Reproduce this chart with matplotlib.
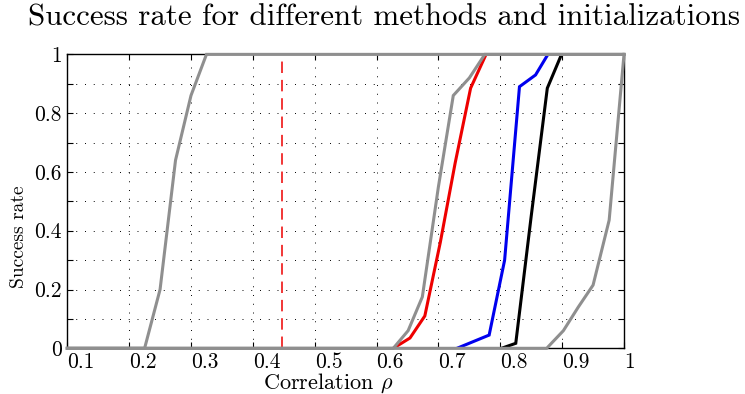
import matplotlib
matplotlib.use("Agg")
import matplotlib.pyplot as plt

plt.rcParams['font.family'] = ['cmr10', 'DejaVu Serif']
plt.rcParams['mathtext.fontset'] = 'cm'
plt.rcParams['axes.unicode_minus'] = False

# ---- data ----
gray1_x = [0.1, 0.225, 0.25, 0.275, 0.3, 0.325, 1.0]
gray1_y = [0.0, 0.0, 0.20, 0.64, 0.86, 1.0, 1.0]

gray2_x = [0.1, 0.627, 0.651, 0.674, 0.7, 0.724, 0.75, 0.775, 1.0]
gray2_y = [0.0, 0.0, 0.06, 0.175, 0.55, 0.86, 0.92, 1.0, 1.0]

red_x = [0.627, 0.654, 0.678, 0.703, 0.727, 0.752, 0.777]
red_y = [0.0, 0.035, 0.11, 0.36, 0.63, 0.885, 1.0]

blue_x = [0.73, 0.782, 0.807, 0.831, 0.857, 0.877]
blue_y = [0.0, 0.045, 0.30, 0.89, 0.93, 1.0]

black_x = [0.802, 0.825, 0.85, 0.876, 0.899]
black_y = [0.0, 0.017, 0.45, 0.885, 1.0]

gray3_x = [0.1, 0.875, 0.902, 0.926, 0.95, 0.976, 1.0]
gray3_y = [0.0, 0.0, 0.06, 0.14, 0.215, 0.436, 1.0]

threshold_x = 0.447

xticks = [0.1, 0.2, 0.3, 0.4, 0.5, 0.6, 0.7, 0.8, 0.9, 1.0]
xticklabels = ['0.1', '0.2', '0.3', '0.4', '0.5', '0.6', '0.7', '0.8', '0.9', '1']
yticks = [0.0, 0.1, 0.2, 0.3, 0.4, 0.5, 0.6, 0.7, 0.8, 0.9, 1.0]
yticklabels = ['0', '', '0.2', '', '0.4', '', '0.6', '', '0.8', '', '1']

title = 'Success rate for different methods and initializations'
xlabel = r'Correlation $\rho$'
ylabel = 'Success rate'

# ---- figure ----
fig = plt.figure(figsize=(7.45, 3.94), dpi=100)
ax = fig.add_axes([0.0903, 0.116, 0.7473, 0.746])

ax.set_xlim(0.1, 1.0)
ax.set_ylim(0.0, 1.0)

gray = '#8f8f8f'
lw = 2.2

ax.plot(red_x, red_y, color='#ee0000', lw=lw, zorder=3, solid_joinstyle='miter')
ax.plot(blue_x, blue_y, color='#0000ee', lw=lw, zorder=3, solid_joinstyle='miter')
ax.plot(black_x, black_y, color='black', lw=lw, zorder=3, solid_joinstyle='miter')
for gx, gy in [(gray1_x, gray1_y), (gray2_x, gray2_y), (gray3_x, gray3_y)]:
    ax.plot(gx, gy, color=gray, lw=lw, zorder=4, clip_on=False, solid_joinstyle='miter')

ax.axvline(threshold_x, color='#ee0000', lw=1.1, linestyle=(0, (7.5, 4.5)), zorder=3)

ax.set_xticks(xticks)
ax.set_xticklabels(xticklabels, fontsize=15.5, ha='left')
ax.set_yticks(yticks)
ax.set_yticklabels(yticklabels, fontsize=15.5)

ax.tick_params(direction='in', length=4, width=0.8, top=True, right=True,
               pad=3, colors='black')
ax.tick_params(axis='y', pad=4)

ax.grid(True, color='black', linestyle=(0, (1, 8)), linewidth=0.7)
ax.set_axisbelow(True)

for s in ax.spines.values():
    s.set_linewidth(1.0)
    s.set_zorder(2.5)

ax.set_xlabel(xlabel, fontsize=16)
ax.xaxis.set_label_coords(0.468, -0.08)
ax.set_ylabel(ylabel, fontsize=14)
ax.yaxis.set_label_coords(-0.071, 0.38)

fig.text(0.516, 0.955, title, fontsize=22.3, ha='center', va='center')

fig.savefig('out.png', dpi=100)
